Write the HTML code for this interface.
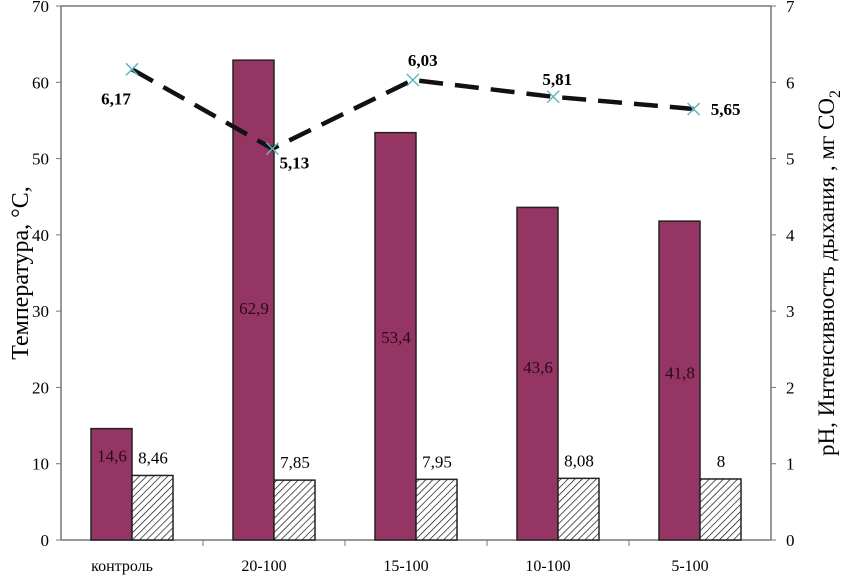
<!DOCTYPE html>
<html><head><meta charset="utf-8"><style>
body{margin:0;background:#fff}
svg{display:block;font-family:"Liberation Serif",serif}
</style></head><body>
<svg id="c" width="841" height="577" viewBox="0 0 841 577">
<defs><pattern id="hatch" width="5" height="5" patternUnits="userSpaceOnUse" patternTransform="rotate(45)"><rect width="5" height="5" fill="#fff"/><line x1="0" y1="0" x2="0" y2="5" stroke="#000" stroke-width="1.3"/></pattern></defs>
<g id="g"></g>
<text transform="translate(28,273) rotate(-90)" text-anchor="middle" font-size="24">Температура, °С,</text>
<text transform="translate(834,273) rotate(-90)" text-anchor="middle" font-size="23">pH, Интенсивность дыхания , мг CO<tspan font-size="16" dy="6">2</tspan></text>
</svg>
<script>
const categories=["контроль","20-100","15-100","10-100","5-100"];
const temperature=[14.6,62.9,53.4,43.6,41.8];
const ph=[8.46,7.85,7.95,8.08,8];
const respiration=[6.17,5.13,6.03,5.81,5.65];
const respLabels=["6,17","5,13","6,03","5,81","5,65"];
const leftTicks=[0,10,20,30,40,50,60,70];
const rightTicks=[0,1,2,3,4,5,6,7];
const L=61,R=771,T=6,B=540;
const yL=v=>B-(B-T)*v/70, yR=v=>B-(B-T)*v/7;
const cx=i=>L+(R-L)/categories.length*(i+0.5);
const mx=i=>cx(i)-1.6*i;
const fmt=v=>String(v).replace('.',',');
const NS="http://www.w3.org/2000/svg",g=document.getElementById('g');
function el(t,a,txt){const e=document.createElementNS(NS,t);for(const k in a)e.setAttribute(k,a[k]);if(txt!=null)e.textContent=txt;g.appendChild(e);return e;}
let e;
e=el('rect',{x:L,y:T,width:R-L,height:B-T,fill:'none',stroke:'#777','stroke-width':1.5});

leftTicks.forEach(v=>{
 e=el('line',{x1:L-5,x2:L,y1:yL(v),y2:yL(v),stroke:'#777'});
 
 e=el('text',{x:L-12,y:yL(v)+6,'text-anchor':'end','font-size':17},v);
 
});
rightTicks.forEach(v=>{
 e=el('line',{x1:R,x2:R+5,y1:yR(v),y2:yR(v),stroke:'#777'});
 
 e=el('text',{x:R+15,y:yR(v)+6,'font-size':17},v);
 
});
for(let i=1;i<categories.length;i++){
 e=el('line',{x1:L+(R-L)/5*i,x2:L+(R-L)/5*i,y1:B,y2:B+6,stroke:'#777'});
 
}
categories.forEach((c,i)=>{
 const x=cx(i);
 e=el('rect',{x:x-41,y:yL(temperature[i]),width:41,height:B-yL(temperature[i]),fill:'#943563',stroke:'#222','stroke-width':1.5});
 
 e=el('text',{x:x-20,y:yL(temperature[i]/2)*0.8+68+6,'text-anchor':'middle','font-size':17,fill:'#2a0a18'},fmt(temperature[i]));
 
 e=el('rect',{x:x,y:yL(ph[i]),width:41,height:B-yL(ph[i]),fill:'url(#hatch)',stroke:'#222','stroke-width':1.5});
 
 e=el('text',{x:x+21,y:yL(ph[i])-12,'text-anchor':'middle','font-size':17},fmt(ph[i]));
 
 e=el('text',{x:x-10,y:B+31,'text-anchor':'middle','font-size':16},c);
 
});
e=el('polyline',{points:respiration.map((v,i)=>mx(i)+','+yR(v)).join(' '),fill:'none',stroke:'#111','stroke-width':4.5,'stroke-dasharray':'24 12'});

const off=[[-16,35],[22,20],[10,-14],[4,-12],[32,6]];
respiration.forEach((v,i)=>{
 const x=mx(i),y=yR(v);
 e=el('path',{d:`M${x-6},${y-6}L${x+6},${y+6}M${x-6},${y+6}L${x+6},${y-6}`,stroke:'#5fb8c0','stroke-width':1.5});
 
 e=el('text',{x:x+off[i][0],y:y+off[i][1],'text-anchor':'middle','font-size':17,'font-weight':'bold'},respLabels[i]);
 
});
</script>
</body></html>
